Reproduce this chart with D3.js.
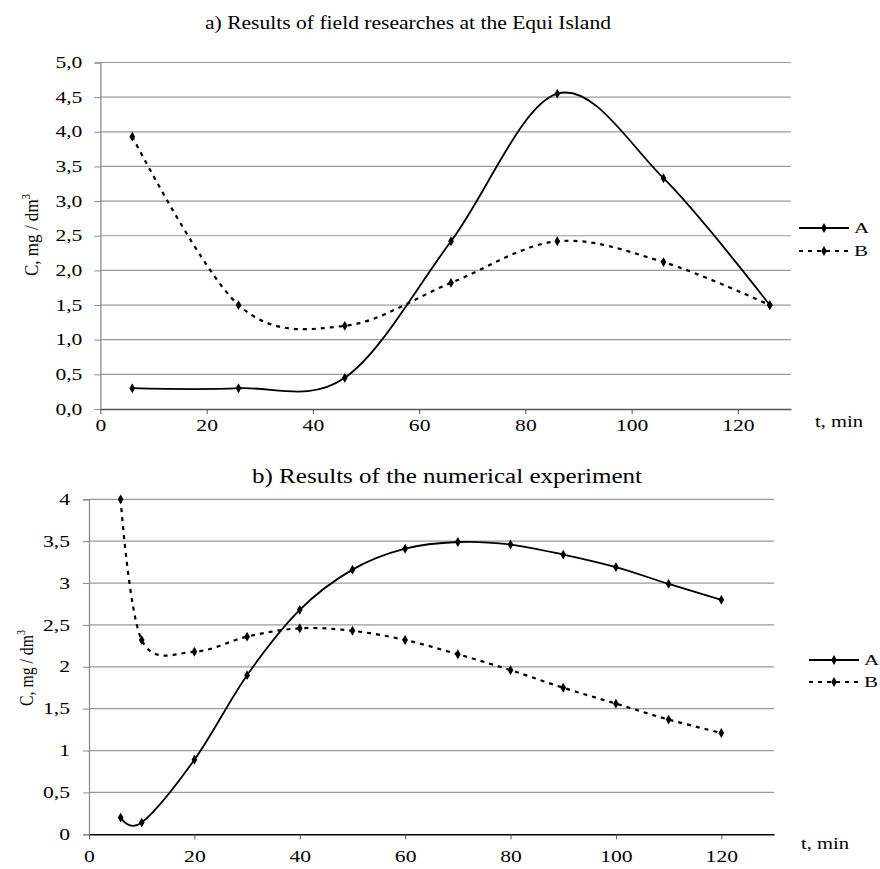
<!DOCTYPE html>
<html>
<head>
<meta charset="utf-8">
<script src="https://cdn.jsdelivr.net/npm/d3@7"></script>
<style>
  body { margin: 0; background: #fff; }
  text { font-family: "Liberation Serif", "Times New Roman", serif; fill: #000; }
</style>
</head>
<body>
<div id="chart"></div>
<script>
var width = 880;
var height = 869;

// a) field researches
var timeA = [6, 26, 46, 66, 86, 106, 126];
var fieldA = [0.3, 0.3, 0.45, 2.42, 4.55, 3.33, 1.5];
var fieldB = [3.93, 1.5, 1.2, 1.82, 2.42, 2.12, 1.5];
var yTicksA = [0, 0.5, 1, 1.5, 2, 2.5, 3, 3.5, 4, 4.5, 5];

// b) numerical experiment
var timeB = [6, 10, 20, 30, 40, 50, 60, 70, 80, 90, 100, 110, 120];
var numA = [0.2, 0.14, 0.89, 1.9, 2.68, 3.16, 3.41, 3.49, 3.46, 3.34, 3.19, 2.99, 2.8];
var numB = [4.0, 2.32, 2.18, 2.36, 2.46, 2.43, 2.32, 2.15, 1.96, 1.75, 1.56, 1.37, 1.21];
var yTicksB = [0, 0.5, 1, 1.5, 2, 2.5, 3, 3.5, 4];

var xTicks = [0, 20, 40, 60, 80, 100, 120];
var seriesNames = ["A", "B"];

var svg = d3.select("#chart")
    .append("svg")
    .attr("width", width)
    .attr("height", height);

// the original glyphs are wider than Times, stretch them a bit
function widen(sel, k) {
    sel.each(function() {
        var len = this.getComputedTextLength();
        d3.select(this)
            .attr("textLength", len * k)
            .attr("lengthAdjust", "spacingAndGlyphs");
    });
}

function drawChart(opt) {
    var g = svg.append("g");
    var xScale = d3.scaleLinear().domain([0, 130]).range(opt.xRange);
    var yScale = d3.scaleLinear().domain(opt.yDomain).range(opt.yRange);

    // gridlines
    g.selectAll(".grid")
        .data(opt.yTicks.filter(function(v) { return v > 0; }))
        .enter()
        .append("line")
        .attr("x1", opt.xRange[0])
        .attr("x2", opt.xRange[1])
        .attr("y1", function(d) { return yScale(d); })
        .attr("y2", function(d) { return yScale(d); })
        .attr("stroke", "#9a9a9a")
        .attr("stroke-width", 1.2);

    var yAxis = d3.axisLeft(yScale)
        .tickValues(opt.yTicks)
        .tickSize(6)
        .tickPadding(opt.yPad)
        .tickFormat(opt.yFormat);

    var gy = g.append("g")
        .attr("transform", "translate(" + opt.xRange[0] + ",0)")
        .call(yAxis);
    gy.select(".domain").attr("stroke", "#888").attr("stroke-width", 1.2);
    gy.selectAll(".tick line").attr("stroke", "#888");
    gy.selectAll("text")
        .style("font-family", "Liberation Serif, serif")
        .style("font-size", "16px")
        .attr("fill", "#000")
        .call(widen, 1.35);

    var xAxis = d3.axisBottom(xScale)
        .tickValues(xTicks)
        .tickSize(5)
        .tickSizeOuter(0)
        .tickPadding(opt.xPad);

    var gx = g.append("g")
        .attr("transform", "translate(0," + opt.yRange[0] + ")")
        .call(xAxis);
    gx.select(".domain").attr("stroke", opt.xAxisColor).attr("stroke-width", 1.4);
    gx.selectAll(".tick line").attr("stroke", "#555");
    gx.selectAll("text")
        .style("font-family", "Liberation Serif, serif")
        .style("font-size", "16px")
        .attr("fill", "#000")
        .call(widen, 1.35);

    // axis labels
    g.append("text")
        .attr("x", opt.xLabelPos[0])
        .attr("y", opt.xLabelPos[1])
        .attr("textLength", 48)
        .attr("lengthAdjust", "spacingAndGlyphs")
        .style("font-size", "16px")
        .text("t, min");

    var yl = g.append("text")
        .attr("transform", "translate(" + opt.yLabelPos[0] + "," + opt.yLabelPos[1] + ") rotate(-90)")
        .attr("text-anchor", "middle")
        .attr("textLength", opt.yLabelLen)
        .attr("lengthAdjust", "spacingAndGlyphs")
        .style("font-size", "19px");
    yl.append("tspan").text("C,  mg / dm");
    yl.append("tspan").attr("dy", -8).style("font-size", "12px").text("3");

    // title
    g.append("text")
        .attr("x", opt.titlePos[0])
        .attr("y", opt.titlePos[1])
        .attr("text-anchor", "middle")
        .attr("textLength", opt.titleLen)
        .attr("lengthAdjust", "spacingAndGlyphs")
        .style("font-size", opt.titleSize)
        .text(opt.title);

    var line = d3.line()
        .x(function(d) { return xScale(d[0]); })
        .y(function(d) { return yScale(d[1]); })
        .curve(d3.curveCardinal.tension(0));

    var diamond = d3.symbol().type(d3.symbolDiamond).size(28);

    var series = [opt.valsA, opt.valsB];
    series.forEach(function(vals, si) {
        var pts = opt.time.map(function(t, i) { return [t, vals[i]]; });
        g.append("path")
            .datum(pts)
            .attr("d", line)
            .attr("fill", "none")
            .attr("stroke", "#000")
            .attr("stroke-width", si == 0 ? 1.8 : 2.2)
            .attr("stroke-dasharray", si == 0 ? null : "4,5");
        g.selectAll(".pt" + si)
            .data(pts)
            .enter()
            .append("path")
            .attr("d", diamond)
            .attr("transform", function(d) {
                return "translate(" + xScale(d[0]) + "," + yScale(d[1]) + ")"; })
            .attr("fill", "#000");
    });

    // legend
    seriesNames.forEach(function(name, i) {
        var ly = opt.legendY + i * opt.legendGap;
        g.append("line")
            .attr("x1", opt.legendX)
            .attr("x2", opt.legendX + 50)
            .attr("y1", ly)
            .attr("y2", ly)
            .attr("stroke", "#000")
            .attr("stroke-width", i == 0 ? 1.8 : 2.2)
            .attr("stroke-dasharray", i == 0 ? null : "4,5");
        g.append("path")
            .attr("d", diamond)
            .attr("transform", "translate(" + (opt.legendX + 25) + "," + ly + ")");
        g.append("text")
            .attr("x", opt.legendX + 55)
            .attr("y", ly + 5)
            .style("font-size", "15px")
            .text(name)
            .call(widen, 1.4);
    });
}

drawChart({
    xRange: [100.4, 791],
    yDomain: [0, 5],
    yRange: [409, 62.5],
    yTicks: yTicksA,
    yFormat: function(v) { return d3.format(".1f")(v).replace(".", ","); },
    yPad: 12,
    xPad: 6,
    xAxisColor: "#555",
    xLabelPos: [815, 427],
    yLabelPos: [38, 235],
    yLabelLen: 82,
    title: "a) Results of field researches at the Equi Island",
    titlePos: [408, 29],
    titleSize: "19px",
    titleLen: 406,
    time: timeA,
    valsA: fieldA,
    valsB: fieldB,
    legendX: 799,
    legendY: 228,
    legendGap: 23
});

drawChart({
    xRange: [89, 774],
    yDomain: [0, 4],
    yRange: [834.3, 499.3],
    yTicks: yTicksB,
    yFormat: function(v) { return String(v).replace(".", ","); },
    yPad: 13,
    xPad: 11,
    xAxisColor: "#000",
    xLabelPos: [801, 849],
    yLabelPos: [33, 668],
    yLabelLen: 76,
    title: "b) Results of the numerical experiment",
    titlePos: [447, 483],
    titleSize: "20px",
    titleLen: 390,
    time: timeB,
    valsA: numA,
    valsB: numB,
    legendX: 809,
    legendY: 660,
    legendGap: 22
});
</script>
</body>
</html>
